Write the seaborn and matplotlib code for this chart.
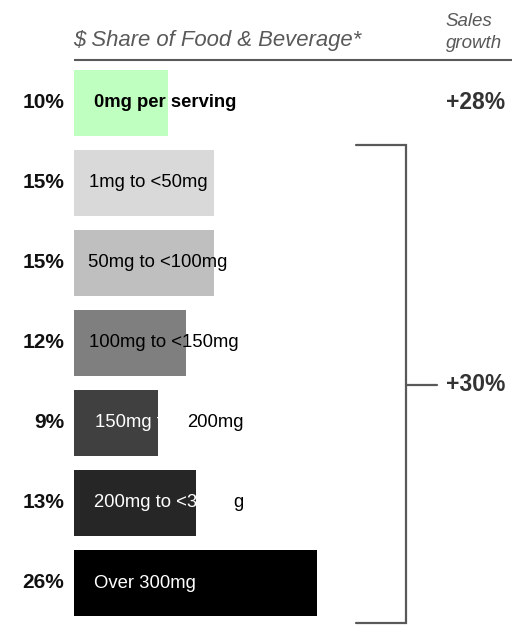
import matplotlib
matplotlib.use("Agg")
import matplotlib.pyplot as plt
import seaborn as sns
import pandas as pd

# Sodium tiers and their dollar share of food & beverage sales
categories = ["0mg per serving", "1mg to <50mg", "50mg to <100mg", "100mg to <150mg",
              "150mg to <200mg", "200mg to <300mg", "Over 300mg"]
shares = [10, 15, 15, 12, 9, 13, 26]
share_labels = ["10%", "15%", "15%", "12%", "9%", "13%", "26%"]

# Sales growth: zero-sodium tier alone, and all sodium-containing tiers together
growth_zero = "+28%"
growth_rest = "+30%"

header = "$ Share of Food & Beverage*"
growth_header = ["Sales", "growth"]

# Styling
bar_colors = ["#bfffbf", "#d9d9d9", "#bfbfbf", "#7f7f7f", "#404040", "#262626", "#000000"]
label_tails = ["", "", "", "", "200mg", "g", ""]       # part of the label printed in black
head_colors = ["#000000", "#000000", "#000000", "#000000", "#ffffff", "#ffffff", "#ffffff"]
label_pad = [2.1, 1.6, 1.5, 1.6, 2.2, 2.1, 2.1]
label_bold = [True, False, False, False, False, False, False]

sns.set_theme(style="white")
plt.rcParams["font.family"] = ["Liberation Sans", "DejaVu Sans"]

df = pd.DataFrame({"category": categories, "share": shares})

fig = plt.figure(figsize=(5.12, 6.26), dpi=100)
ax = fig.add_axes([0, 0, 1, 1])

sns.barplot(data=df, x="share", y="category", hue="category", palette=bar_colors,
            orient="h", width=0.83, legend=False, dodge=False, ax=ax,
            saturation=1, edgecolor="none", linewidth=0)

PX = 9.35  # pixels per percentage point
ax.set_xlim(-74 / PX, (512 - 74) / PX)
ax.set_ylim((626 - 103) / 80, -103 / 80)
ax.axis("off")

def ypx(p):
    return (p - 103) / 80

def xpx(p):
    return (p - 74) / PX

gray = "#595959"

# Column headers and rule
ax.text(xpx(73), ypx(41), header, fontsize=15.9, style="italic", color=gray,
        ha="left", va="center")
ax.text(xpx(445), ypx(22), growth_header[0], fontsize=13.5, style="italic", color=gray,
        ha="left", va="center")
ax.text(xpx(446), ypx(44), growth_header[1], fontsize=13.5, style="italic", color=gray,
        ha="left", va="center")
ax.plot([0, xpx(512)], [ypx(60), ypx(60)], color=gray, lw=1.5, solid_capstyle="butt",
        clip_on=False)

# Share labels and category labels inside bars
for i, (cat, val) in enumerate(zip(categories, shares)):
    ax.text(xpx(64), i, share_labels[i], fontsize=15, fontweight="bold",
            color="#111111", ha="right", va="center")
    tail = label_tails[i]
    head = cat[:len(cat) - len(tail)] if tail else cat
    weight = "bold" if label_bold[i] else "normal"
    t = ax.text(label_pad[i], i, head, fontsize=13.3, fontweight=weight,
                color=head_colors[i], ha="left", va="center")
    if tail:
        ax.annotate(tail, xy=(1, 0), xycoords=t, ha="left", va="bottom",
                    fontsize=13.3, fontweight=weight, color="#000000")

# Growth for the zero-sodium tier
ax.text(xpx(446), 0, growth_zero, fontsize=16.5, fontweight="bold", color="#333333",
        ha="left", va="center")

# Bracket grouping the sodium-containing tiers
top, bot = ypx(145), ypx(623)
xl, xr, xt = xpx(356), xpx(406), xpx(437)
ax.plot([xl, xr, xr, xl], [top, top, bot, bot], color=gray, lw=1.6,
        solid_joinstyle="miter")
mid = ypx(385)
ax.plot([xr, xt], [mid, mid], color=gray, lw=1.6)
ax.text(xpx(446), mid, growth_rest, fontsize=16.5, fontweight="bold", color="#333333",
        ha="left", va="center")

fig.savefig("out.png", dpi=100)
